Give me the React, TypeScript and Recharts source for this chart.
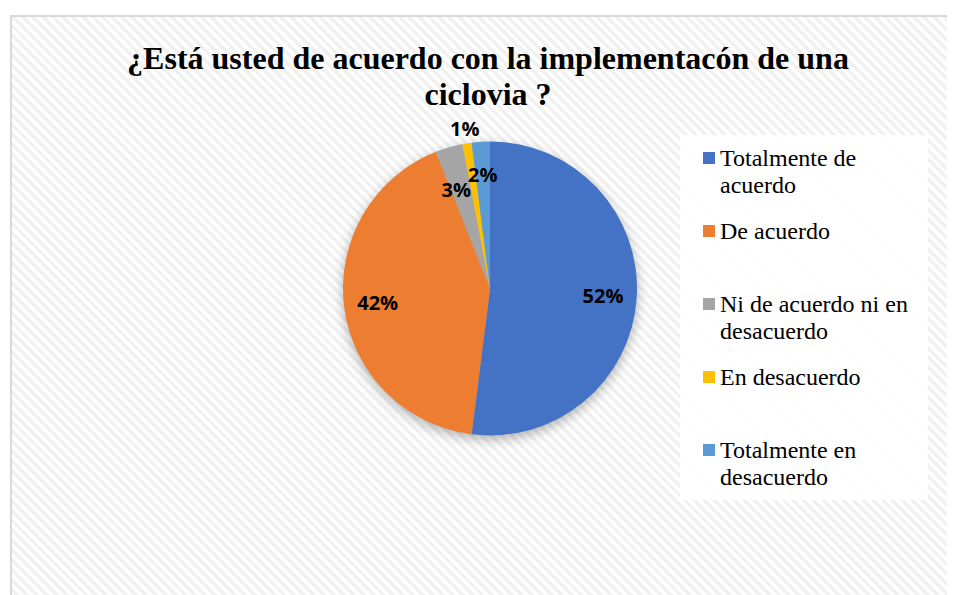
import { PieChart, Pie, Cell, Legend } from "recharts";

const categories = [
  "Totalmente de acuerdo",
  "De acuerdo",
  "Ni de acuerdo ni en desacuerdo",
  "En desacuerdo",
  "Totalmente en desacuerdo",
];
const percents = [52, 42, 3, 1, 2];
const labelTexts = ["52%", "42%", "3%", "1%", "2%"];

const COLORS = ["#4472C4", "#ED7D31", "#A5A5A5", "#FFC000", "#5B9BD5"];
// how far out each data label sits, as a share of the radius
const LABEL_RADIUS = [0.77, 0.77, 0.7, 1.1, 0.78];

const SERIF = "Liberation Serif, DejaVu Serif, serif";

const rows = categories.map((name, i) => ({ name, value: percents[i] }));

const RAD = Math.PI / 180;

function renderLabel(props: any) {
  const { cx, cy, midAngle, outerRadius, index } = props;
  const r = outerRadius * LABEL_RADIUS[index];
  const x = cx + r * Math.cos(-midAngle * RAD) - (index === 2 ? 5 : 0);
  const y = cy + r * Math.sin(-midAngle * RAD);
  return (
    <text
      x={x}
      y={y}
      textAnchor="middle"
      dominantBaseline="central"
      fill="#000"
      fontFamily="'Open Sans', sans-serif"
      fontWeight={700}
      fontSize={20}
    >
      {labelTexts[index]}
    </text>
  );
}

function LegendBox() {
  return (
    <div
      style={{
        width: 248,
        height: 365,
        background: "rgba(255,255,255,0.9)",
        boxSizing: "border-box",
        paddingTop: 9.5,
        paddingLeft: 23,
        fontFamily: SERIF,
        fontSize: 24,
        lineHeight: "27px",
        color: "#000",
        textAlign: "left",
      }}
    >
      {categories.map((c, i) => (
        <div key={c} style={{ height: 73, display: "flex", alignItems: "flex-start" }}>
          <span
            style={{
              width: 12,
              height: 12,
              background: COLORS[i],
              marginTop: 7.5,
              marginRight: 5,
              flexShrink: 0,
            }}
          />
          <span style={{ width: 205 }}>{c}</span>
        </div>
      ))}
    </div>
  );
}

export default function App() {
  return (
    <div
      style={{
        position: "relative",
        marginLeft: 2,
        marginTop: 7,
        width: 960,
        height: 600,
        border: "2px solid #d9d9d9",
        background:
          "repeating-linear-gradient(45deg, #ffffff 0px, #ffffff 3.5px, #f1f1f1 3.5px, #f1f1f1 7px)",
      }}
    >
      <style>{`g:has(> .recharts-pie-sector), .recharts-pie-sectors { filter: drop-shadow(0px 4px 6px rgba(0,0,0,0.3)); }`}</style>
      <div
        style={{
          position: "absolute",
          left: 0,
          top: 23,
          width: 952,
          textAlign: "center",
          fontFamily: SERIF,
          fontWeight: 700,
          fontSize: 32,
          lineHeight: "36px",
          color: "#000",
          zIndex: 1,
        }}
      >
        ¿Está usted de acuerdo con la implementacón de una
        <br />
        ciclovia ?
      </div>
      <PieChart width={952} height={585} margin={{ top: 0, right: 0, bottom: 0, left: 0 }}>
        <Pie
          data={rows}
          dataKey="value"
          nameKey="name"
          cx={478}
          cy={271.5}
          outerRadius={147}
          startAngle={90}
          endAngle={-270}
          stroke="none"
          label={renderLabel}
          labelLine={false}
          isAnimationActive={false}
        >
          {rows.map((_, i) => (
            <Cell key={i} fill={COLORS[i]} />
          ))}
        </Pie>
        <Legend
          layout="vertical"
          content={() => <LegendBox />}
          wrapperStyle={{ left: 668, top: 118, width: 248, height: 365 }}
        />
      </PieChart>
    </div>
  );
}
